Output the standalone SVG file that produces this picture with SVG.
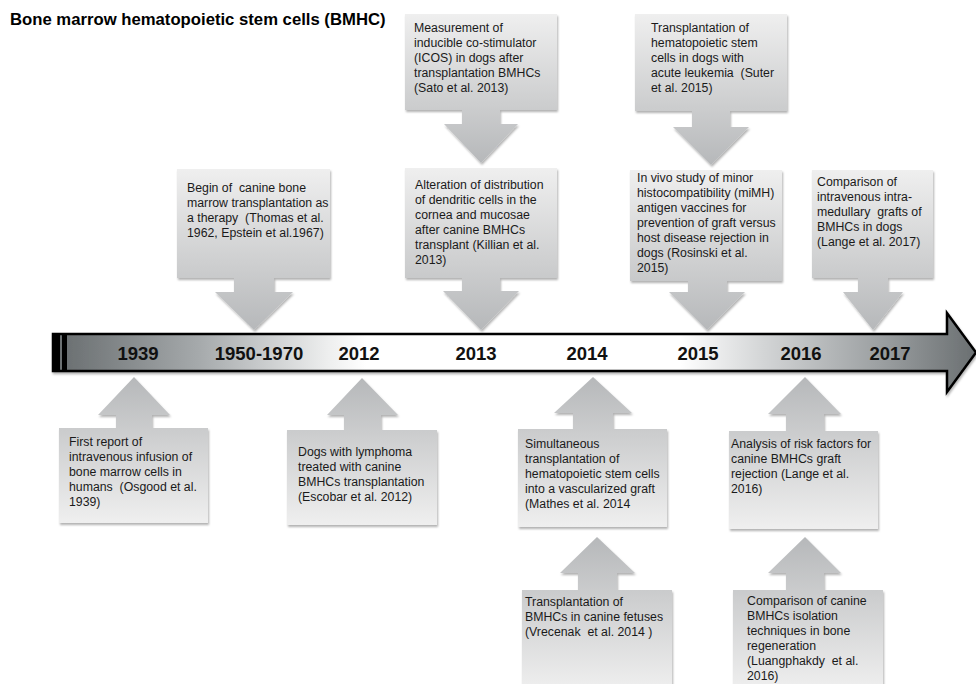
<svg xmlns="http://www.w3.org/2000/svg" width="976" height="684" viewBox="0 0 976 684">
<defs>
<linearGradient id="gDown" x1="0" y1="0" x2="0" y2="1">
<stop offset="0" stop-color="#efefef"/>
<stop offset="0.6" stop-color="#cdcecf"/>
<stop offset="1" stop-color="#b6b8ba"/>
</linearGradient>
<linearGradient id="gUp" x1="0" y1="1" x2="0" y2="0">
<stop offset="0" stop-color="#efefef"/>
<stop offset="0.6" stop-color="#cdcecf"/>
<stop offset="1" stop-color="#b6b8ba"/>
</linearGradient>
<linearGradient id="gBar" gradientUnits="userSpaceOnUse" x1="52" y1="0" x2="976" y2="0">
<stop offset="0.016" stop-color="#6c7173"/>
<stop offset="0.16" stop-color="#a6aaac"/>
<stop offset="0.3" stop-color="#eeefef"/>
<stop offset="0.34" stop-color="#ffffff"/>
<stop offset="0.68" stop-color="#ffffff"/>
<stop offset="0.77" stop-color="#d3d5d6"/>
<stop offset="0.9" stop-color="#9a9ea0"/>
<stop offset="1" stop-color="#6a6f71"/>
</linearGradient>
<filter id="sh" x="-10%" y="-10%" width="130%" height="130%">
<feDropShadow dx="1" dy="2" stdDeviation="1.3" flood-color="#000" flood-opacity="0.3"/>
</filter>
</defs>
<style>
.title{font-family:"Liberation Sans",Arial,sans-serif;font-weight:bold;font-size:16.7px;fill:#000}
.yr{font-family:"Liberation Sans",Arial,sans-serif;font-weight:bold;font-size:18.5px;fill:#111;text-anchor:middle}
.t{font-family:"Liberation Sans",Arial,sans-serif;font-size:12.3px;fill:#1a1a1a;white-space:pre}
.dn{fill:url(#gDown);filter:url(#sh)}
.up{fill:url(#gUp);filter:url(#sh)}
</style>

<text class="title" x="10" y="25">Bone marrow hematopoietic stem cells (BMHC)</text>

<g id="timeline">
<path d="M53,334 H947 V313 L976,352.5 L947,392 V371 H53 Z" fill="url(#gBar)" stroke="#000" stroke-width="2.5" stroke-linejoin="miter" filter="url(#sh)"/>
<rect x="53" y="334" width="7" height="37" fill="#000"/>
<rect x="62" y="334" width="5" height="37" fill="#000"/>
<text class="yr" x="138" y="360">1939</text>
<text class="yr" x="259" y="360">1950-1970</text>
<text class="yr" x="359" y="360">2012</text>
<text class="yr" x="476" y="360">2013</text>
<text class="yr" x="587" y="360">2014</text>
<text class="yr" x="698" y="360">2015</text>
<text class="yr" x="801" y="360">2016</text>
<text class="yr" x="890" y="360">2017</text>
</g>

<g id="connectors"></g>

<g id="n2013a">
<path class="dn" d="M405,14 H557 V110 H500 V124 H518 L481,163 L444,124 H462 V110 H405 Z"/>
<text class="t" x="414" y="32">Measurement of</text>
<text class="t" x="414" y="47">inducible co-stimulator</text>
<text class="t" x="414" y="62">(ICOS) in dogs after</text>
<text class="t" x="414" y="77">transplantation BMHCs</text>
<text class="t" x="414" y="92">(Sato et al. 2013)</text>
</g>

<g id="n2015a">
<path class="dn" d="M635,14 H787 V111 H730 V127 H749 L711,165 L673,127 H692 V111 H635 Z"/>
<text class="t" x="651" y="32">Transplantation of</text>
<text class="t" x="651" y="47">hematopoietic stem</text>
<text class="t" x="651" y="62">cells in dogs with</text>
<text class="t" x="651" y="77">acute leukemia  (Suter</text>
<text class="t" x="651" y="92">et al. 2015)</text>
</g>

<g id="n1950">
<path class="dn" d="M177,169 H330 V278 H274 V292 H293 L254,330 L215,292 H234 V278 H177 Z"/>
<text class="t" x="187" y="192">Begin of  canine bone</text>
<text class="t" x="187" y="207">marrow transplantation as</text>
<text class="t" x="187" y="222">a therapy  (Thomas et al.</text>
<text class="t" x="187" y="237">1962, Epstein et al.1967)</text>
</g>

<g id="n2013b">
<path class="dn" d="M405,168 H557 V278 H500 V291 H519 L481,330 L443,291 H462 V278 H405 Z"/>
<text class="t" x="415" y="189">Alteration of distribution</text>
<text class="t" x="415" y="204">of dendritic cells in the</text>
<text class="t" x="415" y="219">cornea and mucosae</text>
<text class="t" x="415" y="234">after canine BMHCs</text>
<text class="t" x="415" y="249">transplant (Killian et al.</text>
<text class="t" x="415" y="264">2013)</text>
</g>

<g id="n2015b">
<path class="dn" d="M630,170 H782 V281 H727 V292 H745 L707,330 L669,292 H688 V281 H630 Z"/>
<text class="t" x="637" y="182">In vivo study of minor</text>
<text class="t" x="637" y="197">histocompatibility (miMH)</text>
<text class="t" x="637" y="212">antigen vaccines for</text>
<text class="t" x="637" y="227">prevention of graft versus</text>
<text class="t" x="637" y="242">host disease rejection in</text>
<text class="t" x="637" y="257">dogs (Rosinski et al.</text>
<text class="t" x="637" y="272">2015)</text>
</g>

<g id="n2017">
<path class="dn" d="M812,170 H933 V278 H888 V292 H903 L873,330 L843,292 H858 V278 H812 Z"/>
<text class="t" x="817" y="186">Comparison of</text>
<text class="t" x="817" y="201">intravenous intra-</text>
<text class="t" x="817" y="216">medullary  grafts of</text>
<text class="t" x="817" y="231">BMHCs in dogs</text>
<text class="t" x="817" y="246">(Lange et al. 2017)</text>
</g>

<g id="n1939">
<path class="up" d="M59,428 H116 V415 H98 L134,377 L170,415 H152 V428 H208 V523 H59 Z"/>
<text class="t" x="69" y="446">First report of</text>
<text class="t" x="69" y="461">intravenous infusion of</text>
<text class="t" x="69" y="476">bone marrow cells in</text>
<text class="t" x="69" y="491">humans  (Osgood et al.</text>
<text class="t" x="69" y="506">1939)</text>
</g>

<g id="n2012">
<path class="up" d="M287,430 H344 V415 H327 L362,378 L398,415 H381 V430 H437 V525 H287 Z"/>
<text class="t" x="298" y="456">Dogs with lymphoma</text>
<text class="t" x="298" y="471">treated with canine</text>
<text class="t" x="298" y="486">BMHCs transplantation</text>
<text class="t" x="298" y="501">(Escobar et al. 2012)</text>
</g>

<g id="n2014a">
<path class="up" d="M518,429 H573 V413 H554 L593,377 L632,413 H613 V429 H667 V527 H518 Z"/>
<text class="t" x="525" y="448">Simultaneous</text>
<text class="t" x="525" y="463">transplantation of</text>
<text class="t" x="525" y="478">hematopoietic stem cells</text>
<text class="t" x="525" y="493">into a vascularized graft</text>
<text class="t" x="525" y="508">(Mathes et al. 2014</text>
</g>

<g id="n2016a">
<path class="up" d="M729,431 H786 V414 H768 L805,377 L841,414 H824 V431 H878 V529 H729 Z"/>
<text class="t" x="731" y="448">Analysis of risk factors for</text>
<text class="t" x="731" y="463">canine BMHCs graft</text>
<text class="t" x="731" y="478">rejection (Lange et al.</text>
<text class="t" x="731" y="493">2016)</text>
</g>

<g id="n2014b">
<path class="up" d="M522,590 H578 V573 H560 L597,537 L635,573 H617 V590 H672 V690 H522 Z"/>
<text class="t" x="525" y="606">Transplantation of</text>
<text class="t" x="525" y="621">BMHCs in canine fetuses</text>
<text class="t" x="525" y="636">(Vrecenak  et al. 2014 )</text>
</g>

<g id="n2016b">
<path class="up" d="M733,590 H786 V573 H768 L805,537 L841,573 H824 V590 H883 V690 H733 Z"/>
<text class="t" x="747" y="605">Comparison of canine</text>
<text class="t" x="747" y="620">BMHCs isolation</text>
<text class="t" x="747" y="635">techniques in bone</text>
<text class="t" x="747" y="650">regeneration</text>
<text class="t" x="747" y="665">(Luangphakdy  et al.</text>
<text class="t" x="747" y="680">2016)</text>
</g>
</svg>
